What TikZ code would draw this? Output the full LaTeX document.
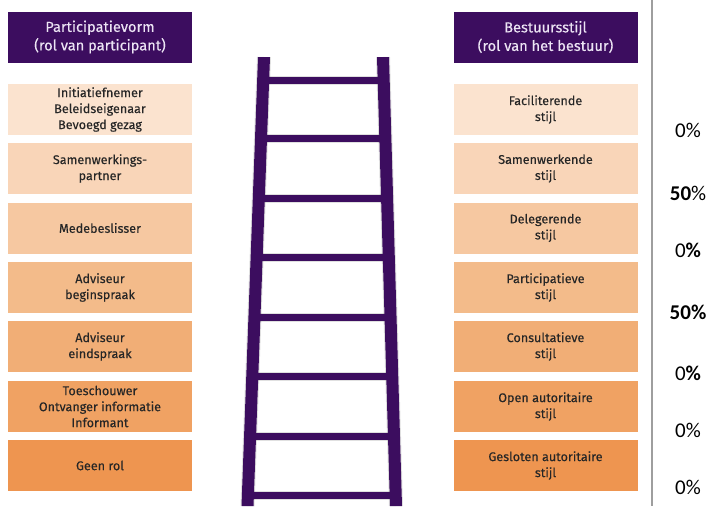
\documentclass[tikz,border=0pt]{standalone}
\usepackage{fontspec}
\setmainfont{Fira Sans}
\newfontfamily\vakfont[FakeBold=0.25]{Fira Sans}
\newfontfamily\pctfont{Carlito}
\usetikzlibrary{calc}
\definecolor{paars}{HTML}{3C0D5F}
\definecolor{kopletter}{HTML}{ECE4F4}
\definecolor{trede1}{HTML}{FBE3CF}
\definecolor{trede2}{HTML}{F9D5B8}
\definecolor{trede3}{HTML}{F6C8A1}
\definecolor{trede4}{HTML}{F3BB8A}
\definecolor{trede5}{HTML}{F1AE76}
\definecolor{trede6}{HTML}{F0A263}
\definecolor{trede7}{HTML}{EE9550}
\tikzset{
  kop/.style={fill=paars,text=kopletter,minimum width=184pt,minimum height=51pt,
    inner sep=0pt,align=center,font=\vakfont\fontsize{14.6}{18.5}\selectfont},
  vak/.style={minimum width=184pt,minimum height=51pt,inner sep=0pt,align=center,
    text=black!85,font=\vakfont\fontsize{12.6}{16}\selectfont},
  pct/.style={font=\pctfont\fontsize{21}{24}\selectfont,text=black}
}
\begin{document}
\begin{tikzpicture}[x=1pt,y=-1pt]
  \useasboundingbox (0,0) rectangle (720,506);
  % Ladder: eerst de schaduw, dan sporten en stijlen.
  \coordinate (lt) at (264,57);
  \coordinate (lb) at (247.5,506);
  \coordinate (rt) at (383,57);
  \coordinate (rb) at (396,506);
  \begin{scope}[shift={(6,7)},black,opacity=0.12]
    \foreach \y in {80,139,198,258,317,376,436,495}
      \draw[line width=9pt] ($(lt)!{(\y-57)/449}!(lb)$) -- ($(rt)!{(\y-57)/449}!(rb)$);
    \draw[line width=14pt] (lt) -- (lb);
    \draw[line width=14pt] (rt) -- (rb);
  \end{scope}
  \foreach \y in {80,139,198,258,317,376,436,495}
    \draw[paars,line width=7pt] ($(lt)!{(\y-57)/449}!(lb)$) -- ($(rt)!{(\y-57)/449}!(rb)$);
  \fill[paars] (258,57) -- (270,57) -- (253.5,506) -- (241.5,506) -- cycle;
  \fill[paars] (377,57) -- (389,57) -- (402,506) -- (390,506) -- cycle;
  % Linker kolom
  \node[kop] (vormkop) at (100,37) {Participatievorm\\(rol van participant)};
  \node[vak,fill=trede1] (vorm1) at (100,109.5) {Initiatiefnemer\\Beleidseigenaar\\Bevoegd gezag};
  \node[vak,fill=trede2] (vorm2) at (100,168.5) {Samenwerkings-\\partner};
  \node[vak,fill=trede3] (vorm3) at (100,228) {Medebeslisser};
  \node[vak,fill=trede4] (vorm4) at (100,287.5) {Adviseur\\beginspraak};
  \node[vak,fill=trede5] (vorm5) at (100,346.5) {Adviseur\\eindspraak};
  \node[vak,fill=trede6] (vorm6) at (100,406.5) {Toeschouwer\\Ontvanger informatie\\Informant};
  \node[vak,fill=trede7] (vorm7) at (100,465.5) {Geen rol};
  % Rechter kolom
  \node[kop] (stijlkop) at (545.5,37) {Bestuursstijl\\(rol van het bestuur)};
  \node[vak,fill=trede1] (stijl1) at (545.5,109.5) {Faciliterende\\stijl};
  \node[vak,fill=trede2] (stijl2) at (545.5,168.5) {Samenwerkende\\stijl};
  \node[vak,fill=trede3] (stijl3) at (545.5,228) {Delegerende\\stijl};
  \node[vak,fill=trede4] (stijl4) at (545.5,287.5) {Participatieve\\stijl};
  \node[vak,fill=trede5] (stijl5) at (545.5,346.5) {Consultatieve\\stijl};
  \node[vak,fill=trede6] (stijl6) at (545.5,406.5) {Open autoritaire\\stijl};
  \node[vak,fill=trede7] (stijl7) at (545.5,465.5) {Gesloten autoritaire\\stijl};
  % Scheidingslijn en percentages
  \draw[black!38,line width=2pt] (652,0) -- (652,506);
  \node[pct] (pct1) at (688,130) {0\%};
  \node[pct] (pct2) at (688,193) {\textbf{50}\%};
  \node[pct] (pct3) at (688,250) {0\textbf{\%}};
  \node[pct] (pct4) at (688,312) {\textbf{50\%}};
  \node[pct] (pct5) at (688,373) {0\textbf{\%}};
  \node[pct] (pct6) at (688,430) {0\%};
  \node[pct] (pct7) at (688,487) {0\%};
\end{tikzpicture}
\end{document}
